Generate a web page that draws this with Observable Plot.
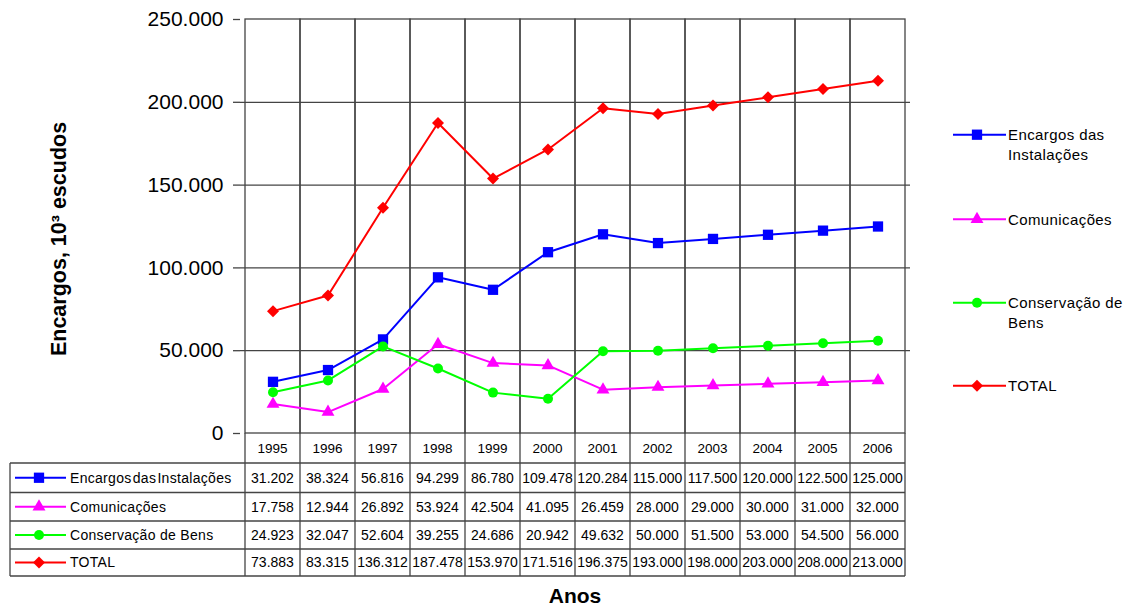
<!DOCTYPE html>
<html>
<head>
<meta charset="utf-8">
<script src="https://cdn.jsdelivr.net/npm/d3@7"></script>
<script src="https://cdn.jsdelivr.net/npm/@observablehq/plot@0.6"></script>
<style>
  body { margin: 0; background: #fff; }
  #wrap { position: relative; width: 1135px; height: 610px; overflow: hidden; font-family: "Liberation Sans", Arial, sans-serif; }
  #wrap > svg { position: absolute; left: 0; top: 0; }
</style>
</head>
<body>
<div id="wrap"></div>
<script>
// Encargos anuais (10^3 escudos), 1995–2006
const years = [1995, 1996, 1997, 1998, 1999, 2000, 2001, 2002, 2003, 2004, 2005, 2006];
const seriesNames = ["Encargos das Instalações", "Comunicações", "Conservação de Bens", "TOTAL"];
const encargosInstalacoes = [31202, 38324, 56816, 94299, 86780, 109478, 120284, 115000, 117500, 120000, 122500, 125000];
const comunicacoes = [17758, 12944, 26892, 53924, 42504, 41095, 26459, 28000, 29000, 30000, 31000, 32000];
const conservacaoBens = [24923, 32047, 52604, 39255, 24686, 20942, 49632, 50000, 51500, 53000, 54500, 56000];
const total = [73883, 83315, 136312, 187478, 153970, 171516, 196375, 193000, 198000, 203000, 208000, 213000];
const yTicks = [0, 50000, 100000, 150000, 200000, 250000];
const yTitle = "Encargos, 10³ escudos";
const xTitle = "Anos";

// styling per series
const seriesValues = [encargosInstalacoes, comunicacoes, conservacaoBens, total];
const colors = ["#0000ff", "#ff00ff", "#00ff00", "#ff0000"];
const symbols = ["square", "triangle", "circle", "diamond2"];
const d3Symbols = { square: d3.symbolSquare, triangle: d3.symbolTriangle, circle: d3.symbolCircle, diamond2: d3.symbolDiamond2 };
const symbolR = [5.8, 4.8, 5, 5.4];
const gridColor = "#444";
const font = "'Liberation Sans', Arial, sans-serif";

const fmt = d => d3.format(",")(d).replace(/,/g, ".");
const yearKeys = years.map(String);

const rows = seriesNames.map((s, i) =>
  years.map((yr, j) => ({ series: s, year: String(yr), value: seriesValues[i][j] }))
);

const seriesMarks = rows.flatMap((data, i) => [
  Plot.line(data, { x: "year", y: "value", stroke: colors[i], strokeWidth: 2 }),
  Plot.dot(data, { x: "year", y: "value", symbol: symbols[i], r: symbolR[i], fill: colors[i], stroke: "none" })
]);

const chart = Plot.plot({
  width: 1135,
  height: 610,
  marginLeft: 240,
  marginRight: 225,
  marginTop: 19,
  marginBottom: 177,
  style: { fontFamily: font, background: "transparent", color: "#000" },
  x: { type: "band", domain: yearKeys, padding: 0, axis: null },
  y: { domain: [0, 250000], label: null },
  marks: [
    // column cells of the plot frame (vertical grid)
    Plot.barY(yearKeys, { x: d => d, y1: 0, y2: 250000, fill: "none", stroke: gridColor, strokeWidth: 1.3 }),
    Plot.ruleY(yTicks.slice(1, -1), { stroke: gridColor, strokeWidth: 1.3 }),
    Plot.axisY(yTicks, { tickFormat: fmt, tickSize: 7, tickPadding: 10, fontSize: 21, stroke: gridColor, strokeWidth: 1.3, label: null }),
    ...seriesMarks
  ]
});

const wrap = document.getElementById("wrap");
wrap.appendChild(chart);

// overlay: data table, legend and axis titles
const xs = chart.scale("x");
const ys = chart.scale("y");
const bw = xs.bandwidth;
const left = 10;
const plotLeft = xs.apply(yearKeys[0]);
const plotRight = xs.apply(yearKeys[yearKeys.length - 1]) + bw;
const plotBottom = ys.apply(0);

const svg = d3.create("svg")
  .attr("width", 1135).attr("height", 610)
  .attr("font-family", font)
  .style("pointer-events", "none");

function swatch(g, i, x1, x2, xm, y) {
  g.append("line").attr("x1", x1).attr("x2", x2).attr("y1", y).attr("y2", y)
    .attr("stroke", colors[i]).attr("stroke-width", 2);
  g.append("path")
    .attr("d", d3.symbol(d3Symbols[symbols[i]], symbolR[i] * symbolR[i] * Math.PI)())
    .attr("transform", `translate(${xm},${y})`)
    .attr("fill", colors[i]);
}

// table geometry
const headerBottom = plotBottom + 30;
const rowHeights = [29.5, 28.5, 28, 27];
const rowEdges = [headerBottom];
rowHeights.forEach(h => rowEdges.push(rowEdges[rowEdges.length - 1] + h));
const tableBottom = rowEdges[rowEdges.length - 1];

const tg = svg.append("g").attr("stroke", gridColor).attr("stroke-width", 1.3);
// vertical lines
yearKeys.forEach(k => {
  const x = xs.apply(k);
  tg.append("line").attr("x1", x).attr("x2", x).attr("y1", plotBottom).attr("y2", tableBottom);
});
tg.append("line").attr("x1", plotRight).attr("x2", plotRight).attr("y1", plotBottom).attr("y2", tableBottom);
tg.append("line").attr("x1", left).attr("x2", left).attr("y1", headerBottom).attr("y2", tableBottom);
// horizontal lines
rowEdges.forEach(y => {
  tg.append("line").attr("x1", left).attr("x2", plotRight).attr("y1", y).attr("y2", y);
});

// header years
svg.append("g").selectAll("text").data(yearKeys).join("text")
  .attr("x", k => xs.apply(k) + bw / 2)
  .attr("y", (plotBottom + headerBottom) / 2)
  .attr("dy", "0.35em")
  .attr("text-anchor", "middle")
  .attr("font-size", 13.5)
  .text(k => k);

// data rows
seriesNames.forEach((name, i) => {
  const yc = (rowEdges[i] + rowEdges[i + 1]) / 2;
  const g = svg.append("g");
  swatch(g, i, 15, 66, 39, yc);
  g.append("text").attr("x", 70).attr("y", yc).attr("dy", "0.35em")
    .attr("font-size", 14).attr("letter-spacing", 0.3)
    .attr("word-spacing", i === 0 ? -3 : 0)
    .text(name);
  g.selectAll("text.v").data(seriesValues[i]).join("text")
    .attr("class", "v")
    .attr("x", (v, j) => xs.apply(yearKeys[j]) + bw / 2)
    .attr("y", yc).attr("dy", "0.35em")
    .attr("text-anchor", "middle")
    .attr("font-size", 14)
    .text(v => fmt(v));
});

// legend
const legendLines = [["Encargos das", "Instalações"], ["Comunicações"], ["Conservação de", "Bens"], ["TOTAL"]];
const legendY = [134.7, 219.3, 302.7, 385.7];
seriesNames.forEach((name, i) => {
  const g = svg.append("g");
  swatch(g, i, 953, 1006, 977, legendY[i]);
  const t = g.append("text").attr("x", 1008).attr("y", legendY[i])
    .attr("font-size", 15).attr("letter-spacing", 0.4);
  legendLines[i].forEach((ln, k) => {
    t.append("tspan").attr("x", 1008).attr("dy", k === 0 ? "0.36em" : 20).text(ln);
  });
});

// axis titles
svg.append("text")
  .attr("transform", `translate(66,239)rotate(-90)`)
  .attr("text-anchor", "middle")
  .attr("font-size", 21.5).attr("font-weight", "bold")
  .text(yTitle);
svg.append("text")
  .attr("x", (plotLeft + plotRight) / 2).attr("y", 603)
  .attr("text-anchor", "middle")
  .attr("font-size", 21).attr("font-weight", "bold")
  .text(xTitle);

wrap.appendChild(svg.node());
</script>
</body>
</html>
